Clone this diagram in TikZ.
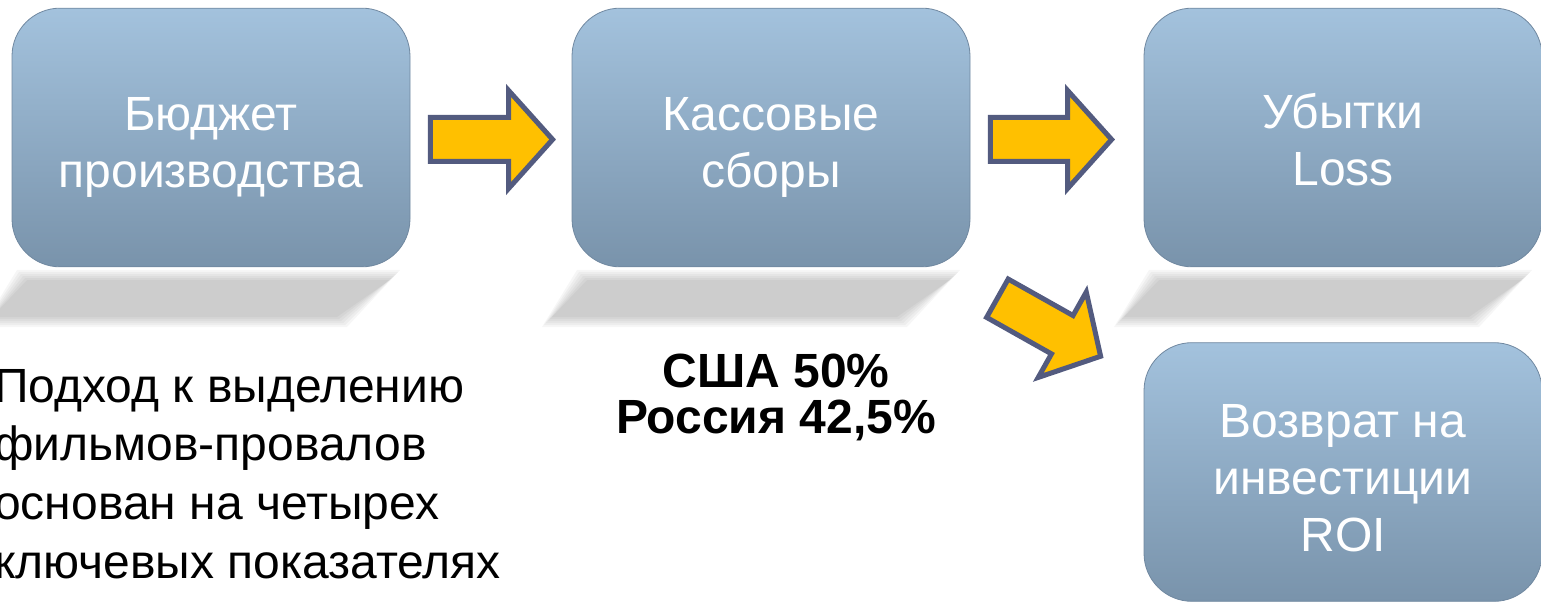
\documentclass[tikz,border=0pt]{standalone}
\usepackage{fontspec}
\setmainfont{Liberation Sans}
\usetikzlibrary{calc}

\definecolor{boxtop}{RGB}{163,194,221}
\definecolor{boxbottom}{RGB}{121,147,171}
\definecolor{boxrim}{RGB}{112,136,160}
\definecolor{arrowfill}{RGB}{255,192,0}
\definecolor{arrowline}{RGB}{83,91,127}

\tikzset{
  stage/.style={rounded corners=36pt, top color=boxtop, bottom color=boxbottom,
    draw=boxrim, line width=0.6pt, minimum width=298.5pt, minimum height=194pt},
  stagetext/.style={text=white, align=center, inner sep=0, anchor=north,
    font=\fontsize{36}{43}\selectfont},
  flowarrow/.style={fill=arrowfill, draw=arrowline, line width=3.75pt},
}

% fat arrow from #1 (back) to #2 (tip)
\newcommand\blockarrow[2]{%
  \coordinate (neck) at ($(#2)!33pt!(#1)$);
  \filldraw[flowarrow] ($(#1)!16.5pt!90:(#2)$) -- ($(neck)!16.5pt!90:(#2)$)
    -- ($(neck)!36.75pt!90:(#2)$) -- (#2) -- ($(neck)!36.75pt!-90:(#2)$)
    -- ($(neck)!16.5pt!-90:(#2)$) -- ($(#1)!16.5pt!-90:(#2)$) -- cycle;
}

\begin{document}
\begin{tikzpicture}[x=0.75pt, y=-0.75pt]
\useasboundingbox (0,0) rectangle (1541,602);
\clip (0,0) rectangle (1541,602);

% soft slanted shadows under the top row
\foreach \bx/\cx in {b1/211,b2/771,b3/1343}
  \foreach \k in {0,...,5}
    \fill[black, opacity=0.037]
      (\cx-194+2*\k,270+2*\k) -- (\cx+189-2*\k,270+2*\k)
      -- (\cx+136-2*\k,327-2*\k) -- (\cx-229+2*\k,327-2*\k) -- cycle;

\node[stage] (b1) at (211,137.5) {};
\node[stage] (b2) at (771,137.5) {};
\node[stage] (b3) at (1343,137.5) {};
\node[stage] (b4) at (1343,472) {};

\node[stagetext] (t1) at ($(b1.center)+(0,-47.5)$) {\rule{0pt}{30pt}Бюджет\\производства};
\node[stagetext] (t2) at ($(b2.center)+(0,-47.5)$) {\rule{0pt}{30pt}Кассовые\\сборы};
\node[stagetext] (t3) at ($(b3.center)+(0,-49.5)$) {\rule{0pt}{30pt}Убытки\\Loss};
\node[stagetext] (t4) at ($(b4.center)+(0,-75)$) {\rule{0pt}{30pt}Возврат на\\инвестиции\\ROI};

% arrows
\coordinate (a1s) at ($(b1.east)+(20,2)$);
\coordinate (a1t) at ($(b2.west)+(-19,2)$);
\coordinate (a2s) at ($(b2.east)+(20,2)$);
\coordinate (a2t) at ($(b3.west)+(-32,2)$);
\coordinate (a3s) at ($(b2.south east)+(27,31)$);
\coordinate (a3t) at ($(b4.north west)+(-43,14)$);
\blockarrow{a1s}{a1t}
\blockarrow{a2s}{a2t}
\blockarrow{a3s}{a3t}

\node[anchor=north, inner sep=0, align=center,
  font=\bfseries\fontsize{36}{34.5}\selectfont] (share) at (776,354)
  {США 50\%\\Россия 42,5\%};

\node[anchor=north west, inner sep=0, align=left,
  font=\fontsize{36}{44}\selectfont] (note) at (-6,369)
  {Подход к выделению\\фильмов-провалов\\основан на четырех\\ключевых показателях};
\end{tikzpicture}
\end{document}
